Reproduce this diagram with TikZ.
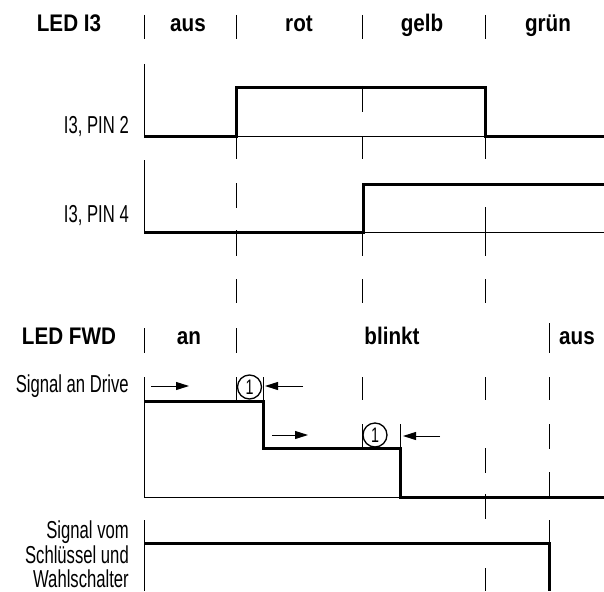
\documentclass[tikz,border=0pt]{standalone}
\usepackage{fontspec}
\setmainfont{Liberation Sans}
\newfontfamily\labfont{Liberation Sans}[FakeStretch=0.68]
\newfontfamily\headfont{Liberation Sans}[FakeStretch=0.86]
\usetikzlibrary{arrows.meta,positioning}

\begin{document}
\begin{tikzpicture}[x=1pt, y=-1pt,
    sig/.style={line width=3pt},
    rule/.style={line width=0.9pt},
    head/.style={font=\headfont\bfseries\fontsize{24}{28}\selectfont, anchor=base, inner sep=0pt},
    lab/.style={font=\labfont\fontsize{24.5}{28}\selectfont, anchor=base east, inner sep=0pt},
    num/.style={draw, circle, line width=1.3pt, inner sep=0pt, minimum size=24pt, font=\labfont\fontsize{21}{23}\selectfont},
    arr/.style={line width=1pt, -{Triangle[length=13pt,width=8pt]}}]
    \useasboundingbox (0,0) rectangle (604,591);

    % LED I3
    \node[head] (ledi) at (69,32) {LED I3};
    \node[head] (aus) at (188,32) {aus};
    \node[head] (rot) at (299,32) {rot};
    \node[head] (gelb) at (422,32) {gelb};
    \node[head] (gruen) at (548,32) {grün};

    \node[lab] (pintwo) at (129,133) {I3, PIN 2};
    \node[lab] (pinfour) at (129,222) {I3, PIN 4};

    % LED FWD
    \node[head] (ledf) at (69,344) {LED FWD};
    \node[head] (an) at (189,344) {an};
    \node[head] (blinkt) at (392,344) {blinkt};
    \node[head] (ausf) at (577,344) {aus};

    \node[lab] (drive) at (129,392) {Signal an Drive};
    \node[lab] (keya) at (129,538) {Signal vom};
    \node[lab] (keyb) at (129,563) {Schlüssel und};
    \node[lab] (keyc) at (129,587) {Wahlschalter};

    % separators, axes and dashed marks
    \foreach \x/\a/\b in {144/15/39, 236/15/39, 362/15/39, 485/15/39,
        144/64/136, 144/160/232, 144/377/497, 144/520/591,
        362/86/112, 236/136/159, 362/136/159, 485/136/159,
        236/183/208, 236/230/256, 362/232/256, 485/207/256,
        236/279/303, 362/279/303, 485/279/303,
        144/328/353, 236/328/353, 549/323/353,
        236/377/401, 263/377/401, 362/377/400, 485/377/400, 549/377/400,
        362/424/448, 400/424/448,
        485/448/473, 485/494/519, 485/568/591,
        549/424/449, 549/472/496, 549/520/543}
        \draw[rule] (\x,\a) -- (\x,\b);

    % baselines
    \draw[rule] (236,136) -- (485,136);
    \draw[rule] (363,232) -- (604,232);
    \draw[rule] (144,497) -- (400,497);

    % signals
    \draw[sig] (144,136) -- (236,136) -- (236,88) -- (485,88) -- (485,136) -- (604,136);
    \draw[sig] (144,232) -- (363,232) -- (363,184) -- (604,184);
    \draw[sig] (144,401) -- (263,401) -- (263,448) -- (400,448) -- (400,497) -- (604,497);
    \draw[sig] (144,543) -- (549,543) -- (549,591);

    % delay marks
    \node[num] (dela) at (249.5,387) {1};
    \node[num] (delb) at (375,435) {1};
    \coordinate (raa) at (151,386);
    \coordinate (rab) at (189,386);
    \coordinate (laa) at (303,386);
    \coordinate (lab) at (265,386);
    \coordinate (rba) at (272,435);
    \coordinate (rbb) at (308,435);
    \coordinate (lba) at (440,436);
    \coordinate (lbb) at (403,436);
    \draw[arr] (raa) -- (rab);
    \draw[arr] (laa) -- (lab);
    \draw[arr] (rba) -- (rbb);
    \draw[arr] (lba) -- (lbb);
\end{tikzpicture}
\end{document}
